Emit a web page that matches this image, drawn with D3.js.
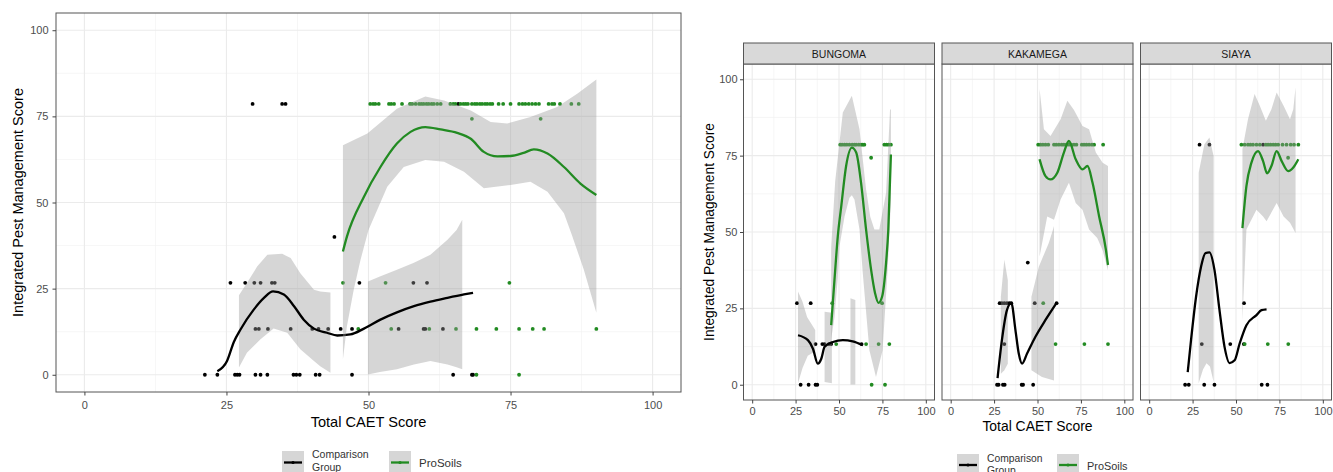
<!DOCTYPE html>
<html>
<head>
<meta charset="utf-8">
<script src="https://cdn.jsdelivr.net/npm/d3@7"></script>
<style>
	body { margin: 0; background: #fff; }
	text { font-family: "Liberation Sans", Arial, sans-serif; }
</style>
</head>
<body>
<svg width="1333" height="472"></svg>
<script>
// ---- data ----
var ticks = [0, 25, 50, 75, 100];
var minorTicks = [12.5, 37.5, 62.5, 87.5];
var facets = ["BUNGOMA", "KAKAMEGA", "SIAYA"];
var groups = ["Comparison Group", "ProSoils"];

// points: [IPM score, [CAET scores...]]
var cmpRows = {
	ALL: [
		[78.6, [29.6, 34.8, 35.4, 65.8]],
		[40, [44.0]],
		[26.7, [25.7, 28.3, 29.9, 31.0, 33.0, 33.5, 48.4, 57.9, 60.3]],
		[13.3, [30.1, 30.7, 32.3, 36.3, 40.1, 41.2, 42.9, 45.1, 47.1, 55.3, 59.7, 60.0, 63.1]],
		[0, [21.2, 23.4, 26.5, 26.9, 27.3, 30.1, 31.0, 32.2, 36.8, 37.3, 37.9, 40.7, 41.4, 47.1, 64.9, 68.2, 68.4]]
	],
	BUNGOMA: [
		[26.7, [25.8, 33.7]],
		[13.3, [36.5, 40.4, 41.7, 44.2, 45.5, 63.0]],
		[0, [27.9, 32.5, 36.5, 37.5]]
	],
	KAKAMEGA: [
		[40, [44.4]],
		[26.7, [28.2, 29.5, 30.9, 32.4, 33.8, 34.9, 48.4, 61.0]],
		[13.3, [30.9]],
		[0, [26.7, 27.6, 30.1, 31.1, 40.9, 41.7, 47.5]]
	],
	SIAYA: [
		[78.6, [29.0, 34.7, 65.6]],
		[26.7, [54.6]],
		[13.3, [30.3, 46.7, 54.5]],
		[0, [20.7, 22.8, 31.7, 37.6, 64.8, 68.1]]
	]
};

var proRows = {
	ALL: [
		[78.6, [50.3, 50.8, 51.2, 51.8, 53.6, 54.0, 54.5, 55.9, 57.3, 57.7, 58.3, 58.9, 59.3, 59.7, 60.2,
			60.6, 61.1, 61.5, 62.1, 62.7, 64.4, 64.9, 65.3, 66.2, 66.7, 67.1, 67.5, 68.2, 68.7, 69.1,
			69.6, 70.0, 70.5, 70.9, 71.4, 71.8, 72.9, 73.7, 75.0, 76.5, 77.1, 77.6, 78.2, 78.8, 79.4,
			80.0, 81.7, 82.3, 82.7, 83.7, 85.7, 87.0]],
		[74.3, [68.2, 80.3]],
		[26.7, [45.5, 53.0, 74.8]],
		[13.3, [48.2, 54.0, 60.7, 65.4, 69.0, 72.5, 76.5, 78.9, 80.9, 90.1]],
		[0, [69.0, 76.5]]
	],
	BUNGOMA: [
		[78.6, [50.7, 51.8, 53.2, 54.5, 56.0, 57.6, 58.9, 59.9, 61.4, 62.7, 63.7, 64.6, 76.1, 77.4, 78.6, 79.9]],
		[74.3, [68.5]],
		[26.7, [46.1, 74.8]],
		[13.3, [48.4, 65.6, 72.8, 79.0]],
		[0, [68.8, 76.5]]
	],
	KAKAMEGA: [
		[78.6, [50.4, 51.7, 53.1, 54.6, 56.2, 59.5, 60.8, 62.3, 63.9, 65.2, 66.6, 68.1, 69.5, 71.0, 72.4,
			75.5, 76.8, 78.2, 79.7, 81.3, 82.6, 87.8]],
		[26.7, [53.3]],
		[13.3, [60.4, 77.0, 90.6]]
	],
	SIAYA: [
		[78.6, [53.1, 55.0, 56.9, 58.3, 59.8, 61.8, 63.7, 67.2, 68.5, 69.9, 71.4, 72.8, 74.3, 76.8, 79.1,
			81.5, 83.4, 85.9]],
		[74.3, [80.0]],
		[13.3, [55.0, 68.3, 80.1]]
	]
};

// loess fits [x, y]
var cmpFit = {
	ALL: [[23.4, 1.0], [25.1, 4.0], [26.3, 9.5], [27.5, 13.2], [29.8, 18.9], [31.6, 22.3], [33.2, 24.2],
		[35.1, 23.3], [36.9, 19.9], [38.6, 16.0], [40.4, 13.4], [42.7, 12.2], [44.5, 11.4], [46.8, 11.7],
		[49.2, 13.4], [52.1, 16.0], [55.0, 18.1], [58.0, 19.9], [60.9, 21.2], [63.9, 22.3], [66.8, 23.3], [68.4, 23.8]],
	BUNGOMA: [[26.4, 16.2], [32.1, 14.6], [35.0, 11.8], [37.8, 6.9], [39.8, 8.5], [41.7, 12.4], [46.5, 14.0],
		[52.2, 14.6], [57.9, 14.2], [63.7, 12.9]],
	KAKAMEGA: [[27.0, 2.2], [29.5, 14.6], [32.4, 24.4], [34.9, 26.8], [37.3, 17.9], [39.2, 10.2], [41.1, 6.9],
		[44.0, 10.2], [48.8, 15.7], [54.6, 21.2], [61.0, 26.8]],
	SIAYA: [[22.2, 4.1], [24.1, 14.6], [27.0, 28.8], [29.9, 38.7], [32.4, 43.1], [34.7, 43.3], [37.6, 37.6],
		[40.5, 24.4], [43.4, 12.4], [46.3, 7.1], [49.2, 8.0], [52.1, 13.5], [56.0, 19.5], [61.8, 22.8],
		[64.7, 24.4], [67.6, 24.7]]
};

var proFit = {
	ALL: [[45.5, 35.8], [46.2, 40.1], [49.2, 51.7], [52.1, 60.3], [55.0, 67.1], [57.4, 70.5], [60.0, 71.9],
		[62.7, 71.2], [65.6, 70.2], [68.0, 68.5], [70.3, 64.7], [72.7, 63.4], [75.0, 63.5], [77.3, 64.4],
		[79.1, 65.4], [81.5, 64.2], [84.4, 60.3], [87.3, 55.5], [90.1, 52.2]],
	BUNGOMA: [[45.5, 19.5], [47.4, 34.3], [49.3, 48.6], [51.3, 58.4], [54.1, 71.6], [57.4, 77.6], [59.9, 76.0],
		[62.7, 66.1], [65.6, 50.8], [68.5, 37.6], [70.8, 29.9], [72.7, 26.8], [74.8, 28.8], [77.1, 39.8],
		[78.4, 50.8], [79.9, 75.4]],
	KAKAMEGA: [[51.2, 73.8], [54.6, 68.3], [57.5, 67.2], [61.4, 69.4], [65.2, 76.0], [68.1, 79.8], [72.0, 73.8],
		[75.9, 70.5], [78.8, 71.6], [81.7, 66.1], [85.5, 55.1], [89.4, 44.2], [90.6, 39.2]],
	SIAYA: [[53.7, 51.3], [56.0, 65.0], [58.9, 72.7], [62.7, 76.5], [65.6, 73.2], [67.9, 69.2], [70.4, 71.6],
		[73.4, 76.5], [76.3, 73.2], [80.1, 69.9], [83.0, 71.1], [85.9, 73.8]]
};

// confidence bands, split where ggplot dropped them
var cmpBand = {
	ALL: [
		{up: [[27.2, 23.1], [28.6, 26.6], [30.4, 31.4], [32.2, 34.8], [34.8, 35.1], [36.3, 33.9], [38.0, 29.5],
			[40.4, 24.7], [41.5, 24.2], [43.3, 23.9]],
		 lo: [[27.2, 2.1], [28.6, 6.4], [31.0, 10.3], [33.3, 13.4], [35.7, 12.2], [38.0, 7.4], [40.4, 4.0],
			[41.5, 2.5], [43.3, 0.6]]},
		{up: [[49.9, 27.1], [52.0, 28.5], [55.0, 30.5], [58.0, 32.5], [60.9, 34.8], [63.9, 39.2], [65.5, 42.0], [66.5, 45.0]],
		 lo: [[49.9, 0.1], [52.0, 0.8], [55.0, 1.6], [58.0, 3.0], [60.9, 4.0], [63.9, 3.0], [65.5, 2.2], [66.5, 1.6]]}
	],
	BUNGOMA: [
		{up: [[26.4, 30.5], [29.0, 27.2], [31.6, 22.2], [36.3, 17.9]],
		 lo: [[26.4, 0.5], [29.0, 5.5], [32.0, 9.5], [35.0, 10.5], [36.3, 10.0]]},
		{up: [[41.7, 23.9], [45.9, 23.6]], lo: [[41.7, 0.9], [45.9, 0.5]]},
		{up: [[56.6, 28.3], [59.4, 27.7]], lo: [[56.6, 0.1], [59.4, 0.1]]}
	],
	KAKAMEGA: [
		{up: [[28.9, 28.8], [30.9, 40.9], [32.9, 34.3]], lo: [[28.9, 3.6], [30.9, 4.7], [32.9, 6.9]]},
		{up: [[46.5, 28.8], [50.8, 38.7], [56.5, 46.4], [58.5, 50.0], [59.5, 52.0]],
		 lo: [[46.5, 4.7], [52.6, 2.5], [59.5, 1.4]]}
	],
	SIAYA: [
		{up: [[28.5, 69.4], [31.8, 78.7], [34.7, 80.9], [37.1, 74.9]],
		 lo: [[28.5, 0.5], [31.0, 5.0], [33.0, 7.0], [35.0, 6.0], [37.1, 1.0]]}
	]
};

var proBand = {
	ALL: [
		{up: [[45.5, 66.6], [49.8, 70.0], [55.0, 77.2], [60.0, 80.8], [63.3, 79.6], [68.0, 76.7], [71.5, 73.4],
			[74.4, 72.9], [78.5, 74.8], [83.2, 77.7], [86.8, 81.6], [90.1, 85.7]],
		 lo: [[45.5, 4.5], [46.2, 14.1], [47.4, 24.7], [48.6, 33.4], [50.0, 42.0], [53.3, 54.6], [56.2, 60.3],
			[60.0, 62.3], [63.3, 61.8], [66.8, 58.9], [70.3, 54.1], [75.0, 55.1], [78.5, 56.0], [81.5, 53.1],
			[84.4, 46.9], [85.7, 41.0], [87.9, 30.5], [90.1, 18.0]]}
	],
	BUNGOMA: [
		{up: [[45.5, 45.0], [47.8, 66.6], [52.2, 89.1], [57.4, 94.6], [61.8, 83.6], [65.6, 63.9], [68.0, 55.0],
			[70.4, 50.8], [73.2, 50.8], [77.1, 62.8], [79.4, 90.2], [79.9, 90.0]],
		 lo: [[45.5, 15.0], [47.4, 22.0], [49.3, 35.0], [50.3, 45.3], [53.2, 55.1], [56.0, 61.2], [57.4, 62.0],
			[58.9, 60.6], [61.8, 50.8], [63.7, 36.5], [67.5, 11.3], [71.3, 2.5], [75.1, 11.3], [78.0, 37.6], [79.9, 60.0]]}
	],
	KAKAMEGA: [
		{up: [[51.2, 96.8], [53.7, 83.6], [57.5, 81.4], [63.3, 86.9], [67.2, 93.0], [71.0, 89.9], [75.9, 84.7],
			[79.7, 83.6], [83.6, 76.0], [87.5, 72.7], [90.6, 71.6]],
		 lo: [[51.2, 42.0], [55.6, 55.1], [59.5, 54.0], [63.3, 60.6], [68.1, 66.1], [72.0, 59.5], [75.9, 57.3],
			[79.7, 50.8], [84.4, 48.0], [87.5, 44.0], [90.6, 37.5]]}
	],
	SIAYA: [
		{up: [[53.7, 77.1], [56.9, 86.9], [60.7, 95.2], [63.7, 91.3], [67.2, 86.4], [70.4, 90.2], [73.4, 95.7],
			[77.4, 91.3], [81.1, 86.9], [83.0, 90.2], [84.3, 97.4]],
		 lo: [[53.7, 21.0], [56.0, 50.8], [61.8, 57.3], [65.6, 55.1], [67.6, 53.5], [73.4, 59.5], [77.4, 55.1],
			[81.1, 53.0], [84.3, 49.7]]}
	]
};

// ---- drawing ----
var svg = d3.select("svg");
var cmpColor = "#000000", proColor = "#228B22";
var bandFill = "#999999", bandAlpha = 0.4;

var boxes = {
	ALL: {x0: 56, x1: 681, y0: 13, y1: 392},
	BUNGOMA: {x0: 743.5, x1: 934.5, y0: 64, y1: 400},
	KAKAMEGA: {x0: 942, x1: 1133, y0: 64, y1: 400},
	SIAYA: {x0: 1140.5, x1: 1331.5, y0: 64, y1: 400}
};

function flatten(rows) {
	var out = [];
	rows.forEach(function (r) {
		r[1].forEach(function (v) { out.push([v, r[0]]); });
	});
	return out;
}

function drawPanel(name, showY, small) {
	var b = boxes[name];
	var x = d3.scaleLinear().domain([-5, 105]).range([b.x0, b.x1]);
	var y = d3.scaleLinear().domain([-5, 105]).range([b.y1, b.y0]);
	var g = svg.append("g");

	g.append("clipPath").attr("id", "clip" + name)
		.append("rect").attr("x", b.x0).attr("y", b.y0)
		.attr("width", b.x1 - b.x0).attr("height", b.y1 - b.y0);

	// grid
	g.selectAll(".mx").data(minorTicks).enter().append("line")
		.attr("x1", x).attr("x2", x).attr("y1", b.y0).attr("y2", b.y1)
		.attr("stroke", "#f2f2f2").attr("stroke-width", 0.7);
	g.selectAll(".my").data(minorTicks).enter().append("line")
		.attr("y1", y).attr("y2", y).attr("x1", b.x0).attr("x2", b.x1)
		.attr("stroke", "#f2f2f2").attr("stroke-width", 0.7);
	g.selectAll(".Mx").data(ticks).enter().append("line")
		.attr("x1", x).attr("x2", x).attr("y1", b.y0).attr("y2", b.y1)
		.attr("stroke", "#ebebeb").attr("stroke-width", 1.1);
	g.selectAll(".My").data(ticks).enter().append("line")
		.attr("y1", y).attr("y2", y).attr("x1", b.x0).attr("x2", b.x1)
		.attr("stroke", "#ebebeb").attr("stroke-width", 1.1);

	var plot = g.append("g").attr("clip-path", "url(#clip" + name + ")");

	// points
	plot.selectAll(".pc").data(flatten(cmpRows[name])).enter().append("circle")
		.attr("cx", function (d) { return x(d[0]); })
		.attr("cy", function (d) { return y(d[1]); })
		.attr("r", 1.9).attr("fill", cmpColor);
	plot.selectAll(".pp").data(flatten(proRows[name])).enter().append("circle")
		.attr("cx", function (d) { return x(d[0]); })
		.attr("cy", function (d) { return y(d[1]); })
		.attr("r", 1.9).attr("fill", proColor);

	var line = d3.line()
		.x(function (d) { return x(d[0]); })
		.y(function (d) { return y(d[1]); })
		.curve(d3.curveMonotoneX);
	var edge = d3.line()
		.x(function (d) { return x(d[0]); })
		.y(function (d) { return y(d[1]); })
		.curve(d3.curveLinear);

	function smooth(bands, fit, col) {
		bands.forEach(function (s) {
			plot.append("path")
				.attr("d", edge(s.up.concat(s.lo.slice().reverse())) + "Z")
				.attr("fill", bandFill).attr("fill-opacity", bandAlpha);
		});
		plot.append("path").attr("d", line(fit))
			.attr("fill", "none").attr("stroke", col)
			.attr("stroke-width", 2.3).attr("stroke-linejoin", "round");
	}
	smooth(cmpBand[name], cmpFit[name], cmpColor);
	smooth(proBand[name], proFit[name], proColor);

	// border
	g.append("rect").attr("x", b.x0).attr("y", b.y0)
		.attr("width", b.x1 - b.x0).attr("height", b.y1 - b.y0)
		.attr("fill", "none").attr("stroke", "#555").attr("stroke-width", 1);

	// axes
	var xa = g.append("g").attr("transform", "translate(0," + b.y1 + ")")
		.call(d3.axisBottom(x).tickValues(ticks).tickSize(3.5).tickPadding(small ? 3.5 : 5.5));
	var axes = [xa];
	if (showY) {
		var ya = g.append("g").attr("transform", "translate(" + b.x0 + ",0)")
			.call(d3.axisLeft(y).tickValues(ticks).tickSize(3.5).tickPadding(small ? 2.5 : 4));
		axes.push(ya);
	}
	axes.forEach(function (a) {
		a.select(".domain").remove();
		a.selectAll("line").attr("stroke", "#444");
		a.selectAll("text").attr("fill", "#4d4d4d")
			.style("font-size", "11px")
			.style("font-family", "'Liberation Sans', Arial, sans-serif");
	});

	if (name !== "ALL") {
		g.append("rect").attr("x", b.x0).attr("y", 43)
			.attr("width", b.x1 - b.x0).attr("height", b.y0 - 43)
			.attr("fill", "#d9d9d9").attr("stroke", "#555").attr("stroke-width", 1);
		g.append("text").attr("x", (b.x0 + b.x1) / 2).attr("y", 57.5)
			.attr("text-anchor", "middle").attr("fill", "#1a1a1a")
			.style("font-size", "10.5px").text(name);
	}
}

drawPanel("ALL", true, false);
facets.forEach(function (f, i) { drawPanel(f, i === 0, true); });

// axis titles
function yTitle(cx, cy, size) {
	svg.append("text").attr("transform", "translate(" + cx + "," + cy + ") rotate(-90)")
		.attr("text-anchor", "middle").attr("dy", "0.35em")
		.style("font-size", size + "px").attr("fill", "#000")
		.text("Integrated Pest Management Score");
}
function xTitle(cx, by, size) {
	svg.append("text").attr("x", cx).attr("y", by)
		.attr("text-anchor", "middle").style("font-size", size + "px").attr("fill", "#000")
		.text("Total CAET Score");
}
yTitle(18, 202.5, 14.5);
xTitle(368.5, 427, 14.6);
yTitle(709, 232, 13.8);
xTitle(1037.5, 431, 13.9);

// legends
function legend(x1, x2, top, lineY, s1, s2, b1, b2, b3) {
	var keys = [{x: x1, col: cmpColor}, {x: x2, col: proColor}];
	keys.forEach(function (k) {
		svg.append("rect").attr("x", k.x).attr("y", top).attr("width", 22).attr("height", 23)
			.attr("fill", "#d6d6d6");
		svg.append("line").attr("x1", k.x + 2).attr("x2", k.x + 20)
			.attr("y1", lineY).attr("y2", lineY)
			.attr("stroke", k.col).attr("stroke-width", 2.3);
		svg.append("circle").attr("cx", k.x + 11).attr("cy", lineY).attr("r", 1.6).attr("fill", k.col);
	});
	var t = svg.append("text").attr("x", x1 + 30).attr("fill", "#333").style("font-size", s1 + "px");
	t.append("tspan").attr("x", x1 + 30).attr("y", b1).text("Comparison");
	t.append("tspan").attr("x", x1 + 30).attr("y", b2).text("Group");
	svg.append("text").attr("x", x2 + 30).attr("y", b3).attr("fill", "#333")
		.style("font-size", s2 + "px").text(groups[1]);
}
legend(282, 389, 451, 462.5, 10.5, 11.5, 458, 470.5, 466.5);
legend(957, 1057, 454, 465, 10.3, 10.9, 462, 474, 469.5);
</script>
</body>
</html>
